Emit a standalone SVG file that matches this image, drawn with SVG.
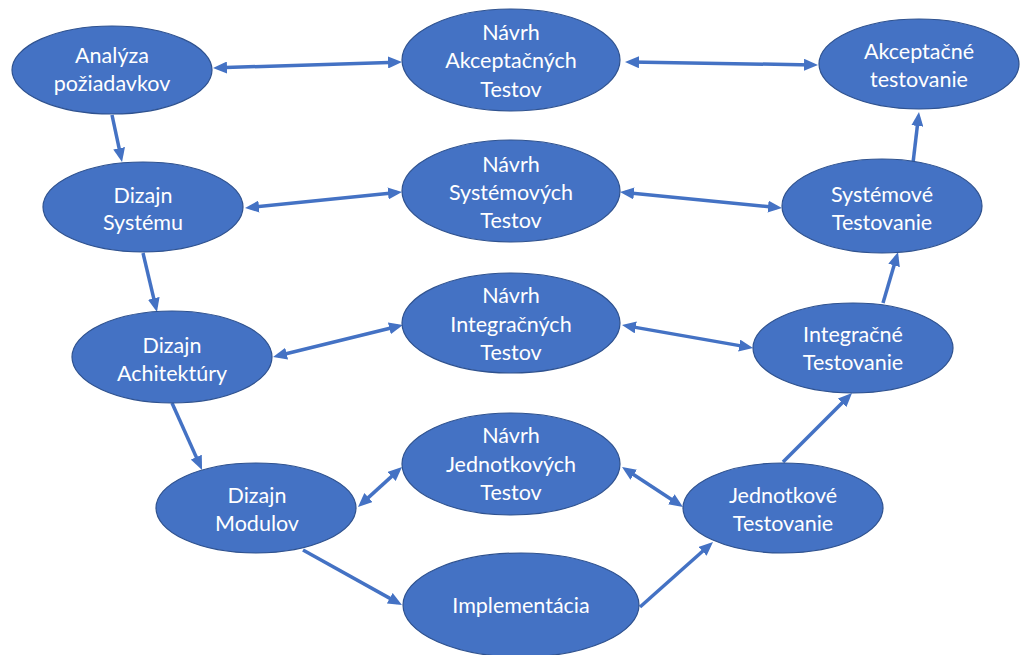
<svg xmlns="http://www.w3.org/2000/svg" width="1021" height="655" viewBox="0 0 1021 655">
<style>
.n ellipse{fill:#4472C4;stroke:#2F528F;stroke-width:1.2}
.n text{fill:#ffffff;font-family:Lato,"Open Sans","Liberation Sans",sans-serif;font-size:21.5px;text-anchor:middle}
.c path{fill:none;stroke:#4472C4;stroke-width:3.5}
.c .s{marker-end:url(#ah)}
.c .d{marker-start:url(#ah);marker-end:url(#ah)}
</style>
<defs>
<marker id="ah" markerUnits="userSpaceOnUse" markerWidth="14" markerHeight="12" refX="9" refY="6" orient="auto-start-reverse" viewBox="0 0 14 12">
<path d="M0,0 L14,6 L0,12 z" fill="#4472C4"/>
</marker>
</defs>
<rect width="1021" height="655" fill="#ffffff"/>
<g class="c" id="connectors">
<path class="s" d="M112,115 L121,157.1"/>
<path class="d" d="M218,67.8 L397,62.2"/>
<path class="d" d="M630,62.1 L813,64.9"/>
<path class="d" d="M250,207.5 L397,192.5"/>
<path class="d" d="M625,192.5 L777,207.5"/>
<path class="s" d="M913,163 L918.4,117"/>
<path class="s" d="M143,253 L155.8,307.1"/>
<path class="d" d="M277.9,355.8 L398.1,326.2"/>
<path class="d" d="M626.9,325.9 L748.1,347.1"/>
<path class="s" d="M172,403 L200,465.4"/>
<path class="d" d="M361.7,503.6 L398.3,470.4"/>
<path class="d" d="M626.2,469.7 L678.8,504.3"/>
<path class="s" d="M303,550 L397.6,602.6"/>
<path class="s" d="M640,607 L709.3,545.3"/>
<path class="s" d="M783,462 L848.5,396.5"/>
<path class="s" d="M883,303 L896.6,256.8"/>
</g>
<g class="n" id="analyza"><ellipse cx="112" cy="70" rx="100" ry="44"/><text x="112" y="63">Analýza</text><text x="112" y="91">požiadavkov</text></g>
<g class="n" id="navrh-akceptacnych"><ellipse cx="511" cy="60" rx="109" ry="51"/><text x="511" y="40">Návrh</text><text x="511" y="68">Akceptačných</text><text x="511" y="97">Testov</text></g>
<g class="n" id="akceptacne-testovanie"><ellipse cx="919" cy="64" rx="100" ry="45"/><text x="919" y="59">Akceptačné</text><text x="919" y="87">testovanie</text></g>
<g class="n" id="dizajn-systemu"><ellipse cx="143" cy="207" rx="100" ry="45"/><text x="143" y="203">Dizajn</text><text x="143" y="230">Systému</text></g>
<g class="n" id="navrh-systemovych"><ellipse cx="511" cy="191" rx="109" ry="51"/><text x="511" y="172">Návrh</text><text x="511" y="200">Systémových</text><text x="511" y="228">Testov</text></g>
<g class="n" id="systemove-testovanie"><ellipse cx="882" cy="206" rx="100" ry="47"/><text x="882" y="202">Systémové</text><text x="882" y="230">Testovanie</text></g>
<g class="n" id="dizajn-architektury"><ellipse cx="172" cy="357" rx="100" ry="46"/><text x="172" y="353">Dizajn</text><text x="172" y="381">Achitektúry</text></g>
<g class="n" id="navrh-integracnych"><ellipse cx="511" cy="323" rx="109" ry="50"/><text x="511" y="303">Návrh</text><text x="511" y="332">Integračných</text><text x="511" y="360">Testov</text></g>
<g class="n" id="integracne-testovanie"><ellipse cx="853" cy="348" rx="100" ry="45"/><text x="853" y="342">Integračné</text><text x="853" y="370">Testovanie</text></g>
<g class="n" id="dizajn-modulov"><ellipse cx="256" cy="508" rx="100" ry="45"/><text x="257" y="503">Dizajn</text><text x="257" y="531">Modulov</text></g>
<g class="n" id="navrh-jednotkovych"><ellipse cx="511" cy="464" rx="109" ry="51"/><text x="511" y="443">Návrh</text><text x="511" y="472">Jednotkových</text><text x="511" y="500">Testov</text></g>
<g class="n" id="jednotkove-testovanie"><ellipse cx="783" cy="508" rx="100" ry="45"/><text x="783" y="503">Jednotkové</text><text x="783" y="531">Testovanie</text></g>
<g class="n" id="implementacia"><ellipse cx="521" cy="605" rx="118" ry="52"/><text x="521" y="613">Implementácia</text></g>
</svg>
